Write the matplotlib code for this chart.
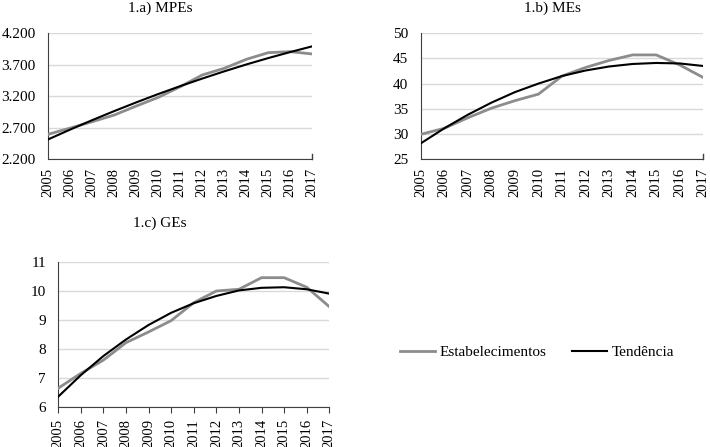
import matplotlib.pyplot as plt
from matplotlib.lines import Line2D

plt.rcParams['font.family'] = ['Liberation Serif', 'DejaVu Serif']

years = [str(y) for y in range(2005, 2018)]

# 1.a) MPEs
mpe_estab = [2593, 2693, 2794, 2900, 3043, 3181, 3351, 3537, 3643, 3786, 3892, 3908, 3871]
mpe_trend = [2513, 2669, 2819, 2963, 3101, 3234, 3360, 3480, 3595, 3704, 3806, 3902, 3993]
mpe_ticks = [2200, 2700, 3200, 3700, 4200]
mpe_labels = ['2.200', '2.700', '3.200', '3.700', '4.200']

# 1.b) MEs
me_estab = [29.9, 31.1, 33.2, 35.1, 36.6, 37.9, 41.5, 43.2, 44.6, 45.7, 45.7, 43.7, 41.2]
me_trend = [28.1, 31.1, 33.8, 36.2, 38.3, 40.0, 41.5, 42.6, 43.4, 43.9, 44.1, 44.0, 43.5]
me_ticks = [25, 30, 35, 40, 45, 50]

# 1.c) GEs
ge_estab = [6.66, 7.17, 7.63, 8.23, 8.60, 8.99, 9.61, 10.01, 10.07, 10.47, 10.47, 10.14, 9.47]
ge_trend = [6.37, 7.11, 7.77, 8.34, 8.84, 9.26, 9.59, 9.84, 10.03, 10.12, 10.14, 10.07, 9.92]
ge_ticks = [6, 7, 8, 9, 10, 11]

GREY = '#8c8c8c'

fig = plt.figure(figsize=(7.1, 4.47), dpi=100)
W, H = 710, 447


def make_ax(l, t, r, b):
    return fig.add_axes([l / W, 1 - b / H, (r - l) / W, (b - t) / H])


def style(ax, estab, trend, ticks, labels, all_ticks):
    x = list(range(len(years)))
    ax.plot(x, estab, color=GREY, lw=2.0, label='Estabelecimentos', zorder=3)
    ax.plot(x, trend, color='black', lw=1.5, label='Tendência', zorder=4)
    ax.set_xlim(0, len(years) - 1)
    ax.set_ylim(ticks[0], ticks[-1])
    ax.set_yticks(ticks)
    ax.set_yticklabels(labels, fontsize=11)
    ax.tick_params(axis='y', length=0, pad=9)
    ax.grid(axis='y', color='#d9d9d9', lw=1)
    ax.set_axisbelow(True)
    for s in ['top', 'right']:
        ax.spines[s].set_visible(False)
    ax.spines['left'].set_color('#404040')
    ax.spines['bottom'].set_color('#404040')
    ax.set_xticks(x)
    ax.set_xticklabels(years, rotation=90, fontsize=10.5)
    if all_ticks:
        ax.tick_params(axis='x', direction='out', length=4, color='#404040', pad=4.5)
    else:
        ax.tick_params(axis='x', length=0, pad=6.5)
        ax.plot([x[-1], x[-1]], [0, 0.04], transform=ax.get_xaxis_transform(),
                color='#404040', lw=1, clip_on=False)


ax_a = make_ax(48.3, 33.3, 312.3, 159)
style(ax_a, mpe_estab, mpe_trend, mpe_ticks, mpe_labels, False)
ax_b = make_ax(420.7, 33.3, 703.3, 159)
style(ax_b, me_estab, me_trend, me_ticks, [str(v) for v in me_ticks], False)
ax_c = make_ax(58.3, 262.3, 329.3, 407.3)
style(ax_c, ge_estab, ge_trend, ge_ticks, [str(v) for v in ge_ticks], True)

fig.text(160 / W, 1 - 8 / H, '1.a) MPEs', ha='center', va='center', fontsize=11)
fig.text(552 / W, 1 - 8 / H, '1.b) MEs', ha='center', va='center', fontsize=11)
fig.text(160 / W, 1 - 223 / H, '1.c) GEs', ha='center', va='center', fontsize=11)

handles = [Line2D([], [], color=GREY, lw=2.0), Line2D([], [], color='black', lw=1.5)]
fig.legend(handles, ['Estabelecimentos', 'Tendência'], loc='center',
           bbox_to_anchor=(537 / W, 1 - 352 / H), ncol=2, frameon=False,
           fontsize=11, handlelength=2.3, handletextpad=0.3, columnspacing=1.7)

fig.savefig('out.png', dpi=100)
